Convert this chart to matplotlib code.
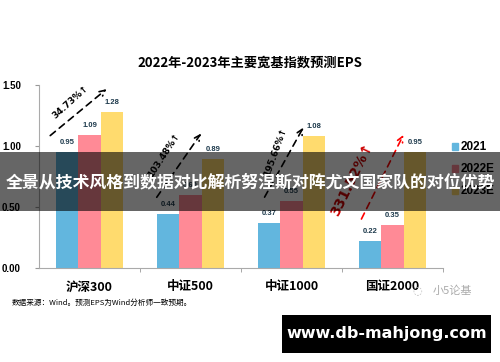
import matplotlib.pyplot as plt
import numpy as np
from matplotlib.patches import Rectangle, Patch

plt.rcParams['font.family'] = ['Liberation Sans', 'Noto Sans CJK SC', 'DejaVu Sans']

# 数据
categories = ['沪深300', '中证500', '中证1000', '国证2000']
eps_2021 = [0.95, 0.44, 0.37, 0.22]
eps_2022 = [1.09, 0.60, 0.55, 0.35]
eps_2023 = [1.28, 0.89, 1.08, 0.95]
growth_labels = ['34.73%↑', '103.48%↑', '195.66%↑', '331.52%↑']
series_names = ['2021', '2022E', '2023E']

c_2021 = '#62B6DE'
c_2022 = '#FF8A96'
c_2023 = '#FFDB6E'
cjk = ['Noto Sans CJK SC', 'DejaVu Sans']

fig = plt.figure(figsize=(5.0, 3.62), dpi=100)
ax = fig.add_axes([0.078, 0.26, 0.808, 0.5055])

x = np.arange(len(categories))
w = 0.22
for off, vals, col in [(-w, eps_2021, c_2021), (0, eps_2022, c_2022), (w, eps_2023, c_2023)]:
    ax.bar(x + off, vals, width=w, color=col, zorder=2)
    for xi, v in zip(x + off, vals):
        ax.text(xi, v + 0.05, f'{v:.2f}', ha='center', va='bottom',
                fontsize=5.5, fontweight='bold', color='#1F3B4D')

ax.set_xlim(-0.5, 3.5)
ax.set_ylim(0, 1.5)
ax.set_yticks([0, 0.5, 1.0, 1.5])
ax.set_yticklabels(['0.00', '0.50', '1.00', '1.50'])
ax.set_xticks(x)
ax.set_xticklabels(categories, family=cjk, fontweight='bold', fontsize=9)
ax.set_xticks([0.5, 1.5, 2.5, 3.5], minor=True)
ax.tick_params(axis='x', which='major', length=0, pad=9)
ax.tick_params(axis='x', which='minor', length=3, color='#999999')
ax.tick_params(axis='y', length=3, color='#999999', labelsize=7, pad=10)
for lab in ax.get_yticklabels():
    lab.set_fontweight('bold')
for s in ['top', 'right']:
    ax.spines[s].set_visible(False)
for s in ['left', 'bottom']:
    ax.spines[s].set_color('#AAAAAA')
    ax.spines[s].set_linewidth(0.8)

# 增长箭头
arrows = [((-0.41, 1.07), (0.19, 1.48), 'black'),
          ((0.65, 0.56), (1.12, 1.12), 'black'),
          ((1.72, 0.56), (2.13, 1.17), 'black'),
          ((2.68, 0.38), (3.12, 1.11), 'red')]
texts = [((-0.19, 1.36), 42, 'black', 6.5),
         ((0.74, 0.92), 57, 'black', 6.5),
         ((1.84, 0.95), 70, 'black', 6.5),
         ((2.60, 0.72), 64, '#CC0000', 10)]
for (p0, p1, col), (pt, rot, tcol, fs), lab in zip(arrows, texts, growth_labels):
    ax.annotate('', xy=p1, xytext=p0,
                arrowprops=dict(arrowstyle='->', color=col, lw=1.2, linestyle=(0, (4, 3))),
                zorder=4)
    ax.text(pt[0], pt[1], lab, rotation=rot, ha='center', va='center',
            fontsize=fs, fontweight='bold', color=tcol, family=['DejaVu Sans'], zorder=4)

# 图例
handles = [Patch(color=c) for c in [c_2021, c_2022, c_2023]]
ax.legend(handles, series_names, loc='upper left', bbox_to_anchor=(0.995, 0.75),
          frameon=False, handlelength=0.55, handleheight=0.55, handletextpad=0.25,
          labelspacing=0.85, prop=dict(weight='bold', size=8.5))

fig.text(0.5, 0.826, '2022年-2023年主要宽基指数预测EPS', ha='center', va='center',
         family=cjk, fontsize=9.5, fontweight='bold')
fig.text(0.024, 0.162, '数据来源：Wind。预测EPS为Wind分析师一致预期。', ha='left', va='center',
         family=cjk, fontsize=5.5)
fig.text(0.945, 0.197, '小5论基', ha='right', va='center', family=cjk,
         fontsize=8, color='#AAAAAA')
fig.text(0.845, 0.197, '◌', ha='right', va='center', fontsize=8, color='#BBBBBB',
         family=['DejaVu Sans'])

# 覆盖横幅
fig.patches.append(Rectangle((0, 0.417), 1, 0.163, transform=fig.transFigure,
                             facecolor='black', alpha=0.6, zorder=10))
fig.text(0.5, 0.497, '全景从技术风格到数据对比解析努涅斯对阵尤文国家队的对位优势',
         ha='center', va='center', family=cjk, fontsize=12.2, fontweight='bold',
         color='white', zorder=11)

# 水印
fig.patches.append(Rectangle((0.564, 0.025), 0.418, 0.105, transform=fig.transFigure,
                             facecolor='black', zorder=10))
fig.text(0.773, 0.078, 'www.db-mahjong.com', ha='center', va='center',
         fontsize=11.5, fontweight='bold', color='white', family=['DejaVu Sans'], zorder=11)

fig.savefig('out.png', dpi=100, facecolor='white')
